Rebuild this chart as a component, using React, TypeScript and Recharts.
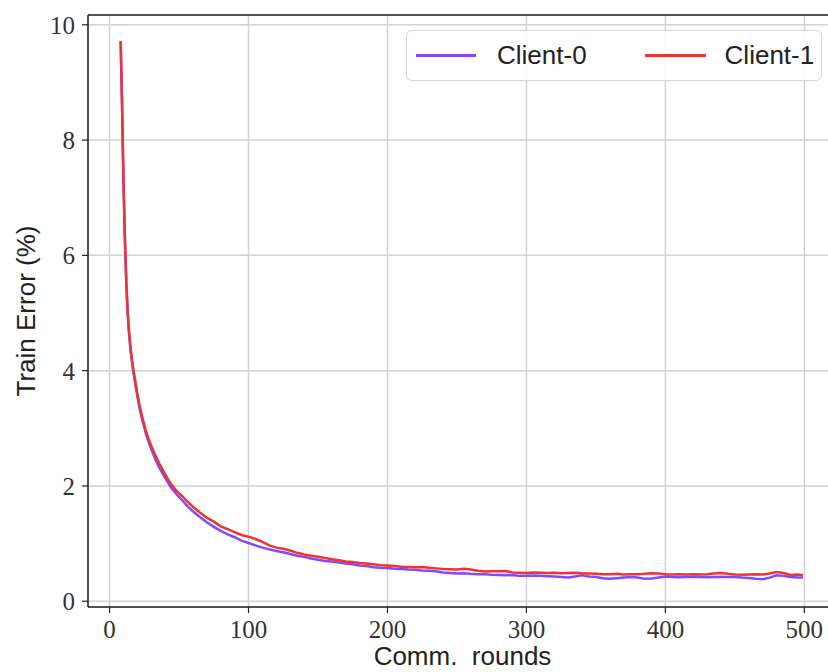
import React from 'react';
import { LineChart, Line, XAxis, YAxis, CartesianGrid, ReferenceLine } from 'recharts';

const rounds = [
    8, 9, 10, 11, 12, 13, 14, 15, 16, 17, 18, 20, 22, 24, 26, 28, 30, 33, 36, 40,
    44, 48, 52, 56, 60, 65, 70, 75, 80, 85, 90, 95, 100, 105, 110, 115, 120, 125, 130, 135,
    140, 145, 150, 155, 160, 165, 170, 175, 180, 185, 190, 195, 200, 205, 210, 215, 220, 225, 230, 235,
    240, 245, 250, 255, 260, 265, 270, 275, 280, 285, 290, 295, 300, 305, 310, 315, 320, 325, 330, 335,
    340, 345, 350, 355, 360, 365, 370, 375, 380, 385, 390, 395, 400, 405, 410, 415, 420, 425, 430, 435,
    440, 445, 450, 455, 460, 465, 470, 475, 480, 485, 490, 495, 499,
];

const client0 = [
    9.72, 8.6, 7.3, 6.3, 5.55, 5.0, 4.65, 4.38, 4.18, 4.0, 3.85, 3.56, 3.3, 3.1, 2.92, 2.77, 2.64, 2.46, 2.31, 2.14,
    1.98, 1.86, 1.76, 1.65, 1.56, 1.46, 1.37, 1.29, 1.22, 1.16, 1.11, 1.05, 1.01, 0.97, 0.93, 0.9, 0.87, 0.85, 0.82, 0.79,
    0.77, 0.74, 0.72, 0.7, 0.69, 0.67, 0.655, 0.64, 0.62, 0.61, 0.59, 0.58, 0.575, 0.565, 0.56, 0.55, 0.545, 0.535, 0.53, 0.52,
    0.5, 0.49, 0.48, 0.485, 0.475, 0.47, 0.47, 0.46, 0.455, 0.45, 0.455, 0.44, 0.44, 0.445, 0.44, 0.435, 0.43, 0.42, 0.41, 0.43,
    0.45, 0.43, 0.42, 0.4, 0.39, 0.4, 0.41, 0.42, 0.41, 0.39, 0.395, 0.41, 0.43, 0.42, 0.415, 0.42, 0.425, 0.42, 0.415, 0.42,
    0.425, 0.42, 0.42, 0.41, 0.405, 0.39, 0.38, 0.41, 0.45, 0.44, 0.42, 0.41, 0.41,
];

const client1 = [
    9.72, 8.65, 7.35, 6.35, 5.6, 5.05, 4.7, 4.42, 4.22, 4.04, 3.89, 3.6, 3.35, 3.15, 2.97, 2.82, 2.7, 2.53, 2.38, 2.2,
    2.04, 1.92, 1.83, 1.73, 1.64, 1.54, 1.45, 1.38, 1.3, 1.25, 1.2, 1.15, 1.12, 1.08, 1.03, 0.97, 0.93, 0.91, 0.88, 0.84,
    0.81, 0.79, 0.77, 0.75, 0.73, 0.71, 0.69, 0.68, 0.665, 0.655, 0.64, 0.625, 0.62, 0.61, 0.6, 0.595, 0.59, 0.595, 0.58, 0.57,
    0.56, 0.555, 0.55, 0.565, 0.55, 0.53, 0.515, 0.52, 0.52, 0.525, 0.5, 0.495, 0.49, 0.5, 0.495, 0.49, 0.495, 0.485, 0.49, 0.495,
    0.485, 0.48, 0.475, 0.47, 0.47, 0.475, 0.465, 0.47, 0.47, 0.475, 0.485, 0.48, 0.47, 0.465, 0.47, 0.465, 0.47, 0.465, 0.47, 0.48,
    0.49, 0.475, 0.465, 0.46, 0.465, 0.47, 0.465, 0.48, 0.505, 0.49, 0.455, 0.465, 0.45,
];

const xTicks = [0, 100, 200, 300, 400, 500];
const yTicks = [0, 2, 4, 6, 8, 10];

const X_MIN = -15.5;
const X_MAX = 523.5;
const Y_MIN = -0.1;
const Y_MAX = 10.17;

const PURPLE = '#8547ff';
const RED = '#ec3434';

const data = rounds.map((r, i) => ({ round: r, c0: client0[i], c1: client1[i] }));

const sans = '"Liberation Sans", Arial, sans-serif';
const serif = '"Liberation Serif", "Times New Roman", serif';

// legend drawn as an overlay so it doesn't steal plot height
const LegendBox = () => (
    <div
        style={{
            position: 'absolute',
            left: 406,
            top: 30,
            width: 414,
            height: 49,
            border: '1px solid #d4d4d4',
            borderRadius: 6,
            background: 'rgba(255,255,255,0.85)',
            display: 'flex',
            alignItems: 'center',
            fontFamily: sans,
            fontSize: 26,
            color: '#222',
        }}
    >
        <span style={{ marginLeft: 9, width: 60, height: 3, background: PURPLE, display: 'inline-block' }} />
        <span style={{ marginLeft: 21 }}>Client-0</span>
        <span style={{ marginLeft: 58, width: 61, height: 3, background: RED, display: 'inline-block' }} />
        <span style={{ marginLeft: 19 }}>Client-1</span>
    </div>
);

export default function App() {
    return (
        <div style={{ position: 'absolute', left: 0, top: 0, width: 828, height: 672, overflow: 'hidden', background: '#fff' }}>
            <LineChart width={850} height={672} data={data} margin={{ top: 15, right: 13, bottom: 0, left: 0 }}>
                <CartesianGrid stroke="#d2d2d2" strokeWidth={1.5} />
                <XAxis
                    dataKey="round"
                    type="number"
                    domain={[X_MIN, X_MAX]}
                    ticks={xTicks}
                    allowDataOverflow
                    height={65}
                    tickSize={6}
                    tickMargin={7}
                    axisLine={{ stroke: '#222', strokeWidth: 1.5 }}
                    tickLine={{ stroke: '#222', strokeWidth: 1.2 }}
                    tick={{ fill: '#333', fontSize: 25, fontFamily: serif }}
                    label={{ value: 'Comm.\u00a0 rounds', position: 'insideBottom', offset: 7, fill: '#222', fontSize: 26, fontFamily: sans }}
                />
                <YAxis
                    type="number"
                    domain={[Y_MIN, Y_MAX]}
                    ticks={yTicks}
                    allowDataOverflow
                    width={88}
                    tickSize={6}
                    tickMargin={7}
                    axisLine={{ stroke: '#222', strokeWidth: 1.5 }}
                    tickLine={{ stroke: '#222', strokeWidth: 1.2 }}
                    tick={{ fill: '#333', fontSize: 25, fontFamily: serif }}
                    label={{
                        value: 'Train Error (%)',
                        angle: -90,
                        position: 'insideLeft',
                        offset: 26,
                        fill: '#222',
                        fontSize: 26,
                        fontFamily: sans,
                        style: { textAnchor: 'middle' },
                    }}
                />
                <ReferenceLine y={Y_MAX} stroke="#222" strokeWidth={1.5} />
                <ReferenceLine x={X_MAX} stroke="#222" strokeWidth={1.5} />
                <Line type="linear" dataKey="c0" name="Client-0" stroke={PURPLE} strokeWidth={2.5} dot={false} isAnimationActive={false} />
                <Line type="linear" dataKey="c1" name="Client-1" stroke={RED} strokeWidth={2.5} dot={false} isAnimationActive={false} />
            </LineChart>
            <LegendBox />
        </div>
    );
}
